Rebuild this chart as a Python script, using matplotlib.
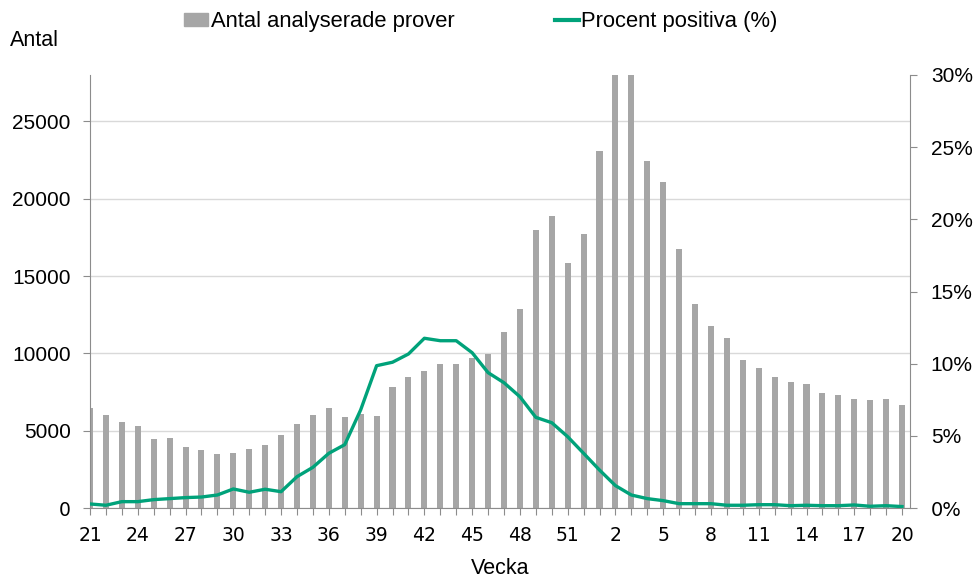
import numpy as np
import matplotlib.pyplot as plt
from matplotlib.patches import Patch
from matplotlib.lines import Line2D

# weeks 21-52 (2020) and 1-20 (2021)
weeks = list(range(21, 53)) + list(range(1, 21))

antal = [6440, 6010, 5580, 5300, 4440, 4540, 3920, 3750, 3470, 3530,
         3790, 4050, 4740, 5450, 6010, 6440, 5860, 6050, 5950, 7840,
         8460, 8850, 9280, 9280, 9710, 9990, 11370, 12880, 17960, 18860,
         15830, 17700, 23060, 31000, 31000, 22430, 21100, 16750, 13160, 11760,
         11000, 9560, 9040, 8480, 8160, 8050, 7430, 7280, 7040, 6980,
         7040, 6650]

procent = [0.28, 0.19, 0.44, 0.44, 0.58, 0.65, 0.72, 0.76, 0.90, 1.32,
           1.09, 1.30, 1.13, 2.17, 2.82, 3.79, 4.39, 6.80, 9.86, 10.10,
           10.67, 11.76, 11.59, 11.59, 10.76, 9.38, 8.68, 7.71, 6.28, 5.91,
           4.94, 3.79, 2.63, 1.55, 0.90, 0.65, 0.51, 0.30, 0.30, 0.30,
           0.19, 0.19, 0.23, 0.23, 0.16, 0.19, 0.16, 0.16, 0.21, 0.12,
           0.16, 0.10]

left_ticks = [0, 5000, 10000, 15000, 20000, 25000]
right_ticks = [0, 5, 10, 15, 20, 25, 30]

bar_color = '#A6A6A6'
line_color = '#00A27A'
axis_color = '#8C8C8C'
arial = ['Liberation Sans', 'DejaVu Sans']

fig = plt.figure(figsize=(9.75, 5.82), dpi=100)
ax = fig.add_axes([90 / 975, 74 / 582, 820 / 975, 433 / 582])
x = np.arange(len(weeks))

ax.bar(x, antal, width=0.38, color=bar_color, zorder=2)
ax.set_xlim(0, 51.5)
ax.set_ylim(0, 28000)
ax.set_yticks(left_ticks)
ax.set_yticklabels([str(v) for v in left_ticks], family=arial, fontsize=15)
ax.grid(axis='y', color='#D9D9D9', linewidth=1, zorder=0)
ax.set_axisbelow(True)

ax.set_xticks(x)
ax.set_xticklabels([str(w) if i % 3 == 0 else '' for i, w in enumerate(weeks)])
ax.tick_params(axis='x', length=5, color=axis_color, labelsize=13.5, pad=8)
ax.tick_params(axis='y', length=5, color=axis_color, pad=9)
ax.get_yticklabels()[0].set_family('DejaVu Sans')
ax.get_yticklabels()[0].set_fontsize(13.5)
for s in ['top', 'right']:
    ax.spines[s].set_visible(False)
for s in ['left', 'bottom']:
    ax.spines[s].set_color(axis_color)
ax.set_xlabel('Vecka', fontsize=15.5, family=arial, labelpad=9)

ax2 = ax.twinx()
ax2.plot(x, np.array(procent) / 100, color=line_color, linewidth=2.4, zorder=3)
ax2.set_ylim(0, 0.30)
ax2.set_yticks([v / 100 for v in right_ticks])
ax2.set_yticklabels([f'{v}%' for v in right_ticks], family=arial, fontsize=15)
ax2.get_yticklabels()[0].set_family('DejaVu Sans')
ax2.get_yticklabels()[0].set_fontsize(14)
ax2.tick_params(axis='y', length=5, color=axis_color, pad=10)
for s in ['top', 'left', 'bottom']:
    ax2.spines[s].set_visible(False)
ax2.spines['right'].set_color(axis_color)

fig.text(10 / 975, 1 - 41 / 582, 'Antal', fontsize=15.5, family=arial, va='center')

handles = [Patch(color=bar_color), Line2D([0], [0], color=line_color, linewidth=3)]
fig.legend(handles, ['Antal analyserade prover', 'Procent positiva (%)'],
           loc='center', bbox_to_anchor=(481 / 975, 1 - 22 / 582), ncol=2,
           frameon=False, prop={'family': arial, 'size': 15.8},
           handlelength=1.1, handleheight=0.5, handletextpad=0.1,
           columnspacing=4.6)

fig.savefig('out.png', dpi=100)
